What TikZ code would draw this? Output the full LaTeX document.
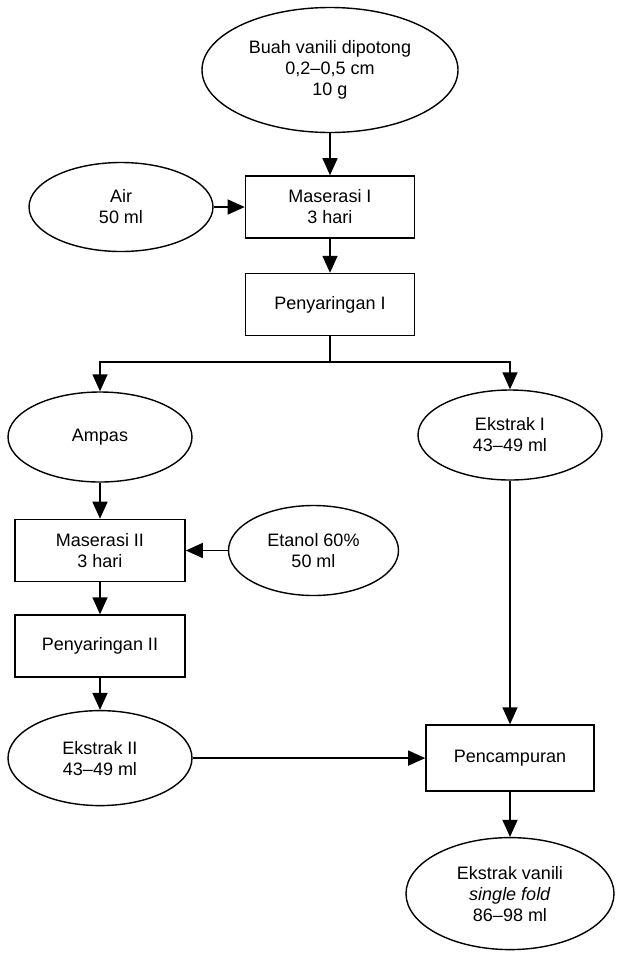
\documentclass[tikz,border=0pt]{standalone}
\usepackage{fontspec}
\setmainfont{Liberation Sans}
\usetikzlibrary{arrows.meta,positioning,shapes.geometric}

\begin{document}
\begin{tikzpicture}[
  x=1pt, y=-1pt,
  every node/.style={font=\fontsize{18}{21}\selectfont, align=center},
  proc/.style={draw, line width=1.6pt, minimum width=169pt, minimum height=62pt},
  bahan/.style={draw, ellipse, line width=1.4pt, minimum width=184pt, minimum height=90pt},
  arr/.style={-{Triangle[length=17pt,width=15pt]}, line width=1.5pt}
]
  \useasboundingbox (0,0) rectangle (625,954);

  \node[bahan, minimum width=256pt, minimum height=125pt] (buah) at (330,70) {Buah vanili dipotong\\0,2--0,5 cm\\10 g};
  \node[proc, below=42pt of buah] (mas1) {Maserasi I\\3 hari};
  \node[bahan, minimum height=89pt, left=31pt of mas1] (air) {Air\\50 ml};
  \node[proc, below=34pt of mas1] (sar1) {Penyaringan I};
  \coordinate (cabang) at (330,362);
  \node[bahan] (ampas) at (100,437) {Ampas};
  \node[bahan] (eks1) at (510,435) {Ekstrak I\\43--49 ml};
  \node[proc, minimum width=170pt, below=36pt of ampas] (mas2) {Maserasi II\\3 hari};
  \node[bahan, minimum width=170pt, right=42pt of mas2] (etanol) {Etanol 60\%\\50 ml};
  \node[proc, minimum width=170pt, below=32pt of mas2] (sar2) {Penyaringan II};
  \node[bahan, minimum height=95pt, below=32pt of sar2] (eks2) {Ekstrak II\\43--49 ml};
  \node[proc, minimum width=168pt, minimum height=66pt] (pcmp) at (eks1 |- eks2) {Pencampuran};
  \node[bahan, minimum width=208pt, minimum height=112pt, below=45pt of pcmp] (vanili) {Ekstrak vanili\\\textit{single fold}\\86--98 ml};

  \draw[arr] (buah) -- (mas1);
  \draw[arr] (air) -- (mas1);
  \draw[arr] (mas1) -- (sar1);
  \draw[line width=1.5pt] (sar1) -- (cabang);
  \draw[arr] (cabang) -| (ampas);
  \draw[arr] (cabang) -| (eks1);
  \draw[arr] (ampas) -- (mas2);
  \draw[arr] (etanol) -- (mas2);
  \draw[arr] (mas2) -- (sar2);
  \draw[arr] (sar2) -- (eks2);
  \draw[arr] (eks1) -- (pcmp);
  \draw[arr] (eks2) -- (pcmp);
  \draw[arr] (pcmp) -- (vanili);
\end{tikzpicture}
\end{document}
